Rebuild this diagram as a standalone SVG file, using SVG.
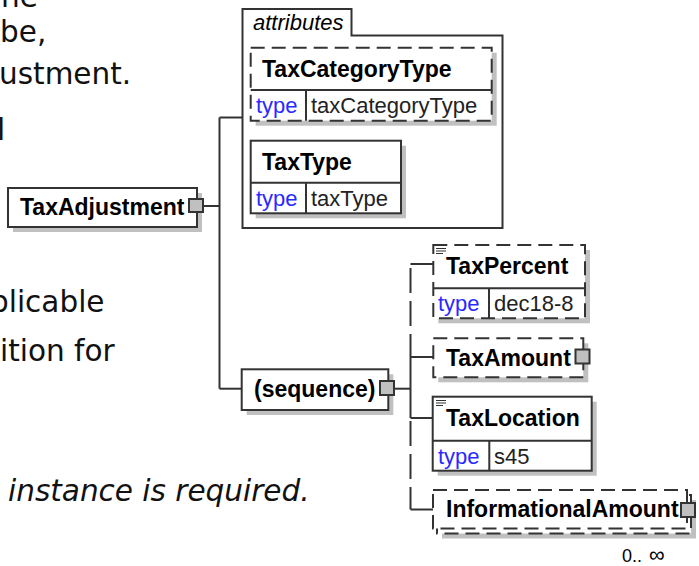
<svg xmlns="http://www.w3.org/2000/svg" width="699" height="566" viewBox="0 0 699 566">
<style>
  .bg { font-family: "DejaVu Sans", Verdana, sans-serif; font-size: 29.5px; fill: #111; }
  .bgi { font-family: "DejaVu Sans", Verdana, sans-serif; font-size: 29.5px; font-style: italic; fill: #111; }
  .box { fill: #fff; stroke: #333; stroke-width: 2; }
  .dbox { fill: #fff; stroke: #333; stroke-width: 2; stroke-dasharray: 14 7; }
  .shadow { fill: #c0c0c0; stroke: none; }
  .div { stroke: #333; stroke-width: 2; fill: none; }
  .exp { fill: #c0c0c0; stroke: #333; stroke-width: 2; }
  .name { font-family: "Liberation Sans", Arial, sans-serif; font-size: 23px; font-weight: bold; fill: #000; }
  .kw { font-family: "Liberation Sans", Arial, sans-serif; font-size: 22px; fill: #2a2aff; }
  .val { font-family: "Liberation Sans", Arial, sans-serif; font-size: 22px; fill: #222; }
  .grp { font-family: "Liberation Sans", Arial, sans-serif; font-size: 22px; font-style: italic; fill: #000; }
  .occ { font-family: "Liberation Sans", Arial, sans-serif; font-size: 18px; fill: #000; }
  .doc { stroke: #333; stroke-width: 1.2; fill: none; }
  .conn { stroke: #333; stroke-width: 2; fill: none; }
  .dconn { stroke: #333; stroke-width: 2; fill: none; stroke-dasharray: 25 8; }
</style>
<rect width="699" height="566" fill="#fff"/>

<g id="background-text">
  <text class="bg" x="1" y="7">he</text>
  <text class="bg" x="0" y="41.5">be,</text>
  <text class="bg" x="-1" y="84">ustment.</text>
  <text class="bg" x="-3" y="140">l</text>
  <text class="bg" x="-10" y="311.5">plicable</text>
  <text class="bg" x="0" y="361">ition for</text>
  <text class="bgi" x="8" y="501">instance is required.</text>
</g>

<g id="connectors">
  <path class="conn" d="M203,206 H219.5"/>
  <path class="conn" d="M219.5,117.5 V388.7"/>
  <path class="conn" d="M219.5,117.5 H242.5"/>
  <path class="conn" d="M219.5,388.7 H241.7"/>
  <path class="conn" d="M394,388.7 H410.5"/>
  <path class="conn" d="M410.5,264 H433.3"/>
  <path class="conn" d="M410.5,357 H433.3"/>
  <path class="conn" d="M410.5,418 H432.7"/>
  <path class="conn" d="M410.5,509.5 H433"/>
  <path class="dconn" d="M410.5,268 V357"/>
  <path class="conn" d="M410.5,357 V418"/>
  <path class="dconn" d="M410.5,421 V509.5"/>
</g>

<g id="TaxAdjustment">
  <rect class="shadow" x="13" y="193" width="189" height="39"/>
  <rect class="box" x="8" y="188" width="189" height="39"/>
  <text class="name" x="20" y="215">TaxAdjustment</text>
  <rect class="exp" x="189" y="199" width="14" height="13"/>
</g>

<g id="attributes">
  <path class="box" d="M242.5,228 V9 H351.5 V35.5 H502.5 V228 Z"/>
  <text class="grp" x="253" y="30">attributes</text>
</g>

<g id="TaxCategoryType">
  <rect class="shadow" x="255.7" y="52.7" width="241" height="73"/>
  <rect class="dbox" x="250.7" y="47.7" width="241" height="73"/>
  <path class="div" d="M250.7,90 H491.7 M306,90 V120.7"/>
  <text class="name" x="262" y="76.5">TaxCategoryType</text>
  <text class="kw" x="256" y="113">type</text>
  <text class="val" x="311" y="113">taxCategoryType</text>
</g>

<g id="TaxType">
  <rect class="shadow" x="255.7" y="145.7" width="150.3" height="72.6"/>
  <rect class="box" x="250.7" y="140.7" width="150.3" height="72.6"/>
  <path class="div" d="M250.7,182.7 H401 M306,182.7 V213.3"/>
  <text class="name" x="262" y="169.5">TaxType</text>
  <text class="kw" x="256" y="206">type</text>
  <text class="val" x="311" y="206">taxType</text>
</g>

<g id="sequence">
  <rect class="shadow" x="246.7" y="374.3" width="146.6" height="40.7"/>
  <rect class="box" x="241.7" y="369.3" width="146.6" height="40.7"/>
  <text class="name" x="254" y="397">(sequence)</text>
  <rect class="exp" x="380" y="381" width="14" height="14"/>
</g>

<g id="TaxPercent">
  <rect class="shadow" x="438.3" y="250" width="151.7" height="73.3"/>
  <rect class="dbox" x="433.3" y="245" width="151.7" height="73.3"/>
  <path class="div" d="M433.3,288.3 H585 M489,288.3 V318.3"/>
  <path class="doc" d="M436,248.5 H446 M436,251 H446 M436,253.5 H443"/>
  <text class="name" x="446" y="274">TaxPercent</text>
  <text class="kw" x="438" y="311">type</text>
  <text class="val" x="494" y="311">dec18-8</text>
</g>

<g id="TaxAmount">
  <rect class="shadow" x="438.3" y="343.3" width="150" height="39"/>
  <rect class="dbox" x="433.3" y="338.3" width="150" height="39"/>
  <text class="name" x="446" y="366">TaxAmount</text>
  <rect class="exp" x="575.5" y="349.5" width="14" height="14"/>
</g>

<g id="TaxLocation">
  <rect class="shadow" x="437.7" y="401.7" width="159" height="74"/>
  <rect class="box" x="432.7" y="396.7" width="159" height="74"/>
  <path class="div" d="M432.7,440.7 H591.7 M489.3,440.7 V470.7"/>
  <path class="doc" d="M436,400.5 H446 M436,403 H446 M436,405.5 H443"/>
  <text class="name" x="446" y="426">TaxLocation</text>
  <text class="kw" x="438" y="463.5">type</text>
  <text class="val" x="494" y="463.5">s45</text>
</g>

<g id="InformationalAmount">
  <rect class="shadow" x="442" y="500" width="254" height="38.5"/>
  <rect class="dbox" x="437" y="495" width="254" height="38.5"/>
  <rect class="dbox" x="433" y="490" width="254" height="38.5"/>
  <text class="name" x="446" y="517">InformationalAmount</text>
  <rect class="exp" x="681" y="503" width="14" height="14"/>
  <text class="occ" x="622" y="561.5">0..<tspan x="649" font-size="22">∞</tspan></text>
</g>
</svg>
